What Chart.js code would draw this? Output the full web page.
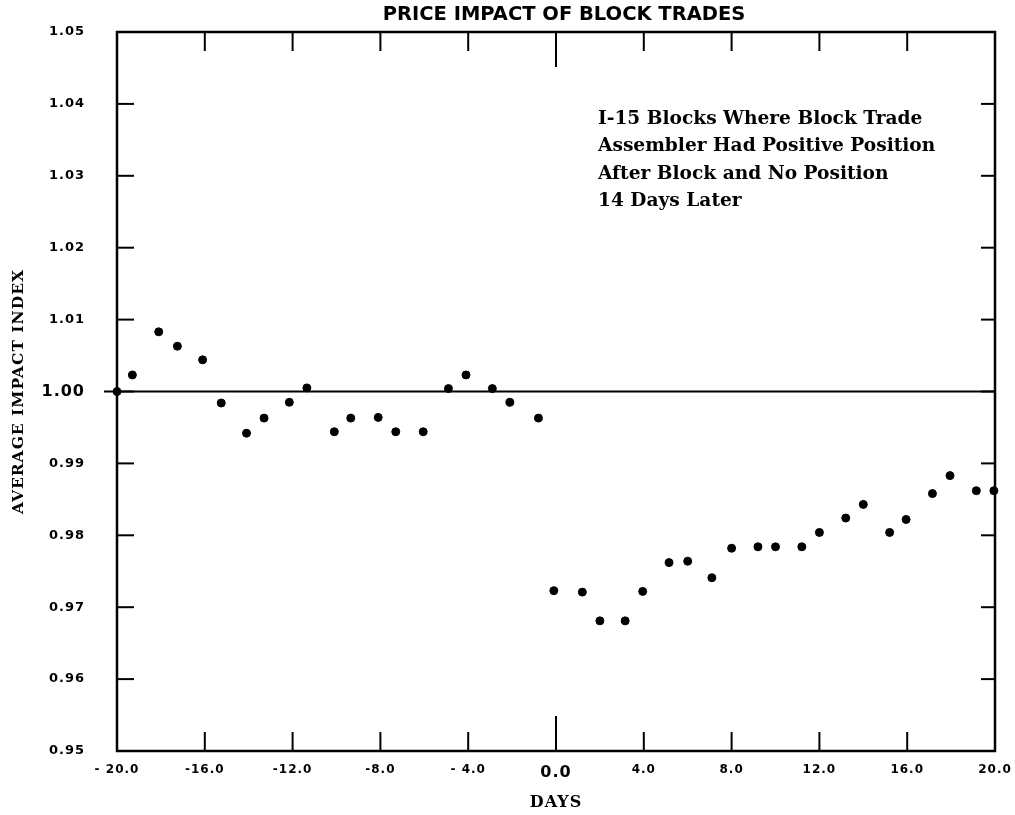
<!DOCTYPE html>
<html>
<head>
<meta charset="utf-8">
<script src="https://cdn.jsdelivr.net/npm/chart.js@4.4.1/dist/chart.umd.min.js"></script>
<style>
  html, body { margin: 0; padding: 0; background: #fff; }
</style>
</head>
<body>
<canvas id="impactChart" width="1015" height="815"></canvas>
<script>
// days relative to the block trade, as plotted
const days = [
  -20.0, -19.3, -18.1, -17.25, -16.1, -15.25, -14.1, -13.3, -12.15, -11.35,
  -10.1, -9.35, -8.1, -7.3, -6.05, -4.9, -4.1, -2.9, -2.1, -0.8,
  -0.1, 1.2, 2.0, 3.15, 3.95, 5.15, 6.0, 7.1, 8.0, 9.2,
  10.0, 11.2, 12.0, 13.2, 14.0, 15.2, 15.95, 17.15, 17.95, 19.15, 19.95
];
const impact = [
  1.0000, 1.0023, 1.0083, 1.0063, 1.0044, 0.9984, 0.9942, 0.9963, 0.9985, 1.0005,
  0.9944, 0.9963, 0.9964, 0.9944, 0.9944, 1.0004, 1.0023, 1.0004, 0.9985, 0.9963,
  0.9723, 0.9721, 0.9681, 0.9681, 0.9722, 0.9762, 0.9764, 0.9741, 0.9782, 0.9784,
  0.9784, 0.9784, 0.9804, 0.9824, 0.9843, 0.9804, 0.9822, 0.9858, 0.9883, 0.9862, 0.9862
];
const xTickValues = [-20, -16, -12, -8, -4, 0, 4, 8, 12, 16, 20];
const xTickLabels = ['- 20.0', '-16.0', '-12.0', '-8.0', '- 4.0', '0.0', '4.0', '8.0', '12.0', '16.0', '20.0'];
const yTickValues = [0.95, 0.96, 0.97, 0.98, 0.99, 1.00, 1.01, 1.02, 1.03, 1.04, 1.05];
const yTickLabels = ['0.95', '0.96', '0.97', '0.98', '0.99', '1.00', '1.01', '1.02', '1.03', '1.04', '1.05'];
const baseline = 1.00;
const chartTitle = 'PRICE IMPACT OF BLOCK TRADES';
const noteLines = [
  'I-15 Blocks Where Block Trade',
  'Assembler Had Positive Position',
  'After Block and No Position',
  '14 Days Later'
];

const sans = '"DejaVu Sans", sans-serif';
const serif = '"DejaVu Serif", serif';

function line(ctx, x1, y1, x2, y2) {
  ctx.beginPath();
  ctx.moveTo(x1, y1);
  ctx.lineTo(x2, y2);
  ctx.stroke();
}

// frame, inward ticks and the 1.00 line
const framePlugin = {
  id: 'frame',
  beforeDraw(chart) {
    chart.ctx.letterSpacing = '1px';
  },
  beforeDatasetsDraw(chart) {
    const { ctx, chartArea: a, scales: { x, y } } = chart;
    ctx.save();
    ctx.strokeStyle = '#000';
    ctx.lineWidth = 2.5;
    ctx.strokeRect(a.left, a.top, a.right - a.left, a.bottom - a.top);
    ctx.lineWidth = 2;
    xTickValues.forEach(v => {
      if (v === -20 || v === 20) return;
      const px = x.getPixelForValue(v);
      const len = v === 0 ? 35 : 19;
      line(ctx, px, a.bottom, px, a.bottom - len);
      line(ctx, px, a.top, px, a.top + len);
    });
    yTickValues.forEach(v => {
      if (v === 0.95 || v === 1.05) return;
      const py = y.getPixelForValue(v);
      line(ctx, a.left, py, a.left + 17, py);
      line(ctx, a.right, py, a.right - 14, py);
    });
    const by = y.getPixelForValue(baseline);
    line(ctx, a.left - 13, by, a.right, by);
    ctx.restore();
  },
  afterDraw(chart) {
    const ctx = chart.ctx;
    ctx.save();
    ctx.letterSpacing = '0px';
    ctx.fillStyle = '#000';
    ctx.textBaseline = 'middle';

    // title
    let size = 19;
    ctx.font = `bold ${size}px ${sans}`;
    size = size * 362 / ctx.measureText(chartTitle).width;
    ctx.font = `bold ${size.toFixed(1)}px ${sans}`;
    ctx.textAlign = 'center';
    ctx.fillText(chartTitle, 564, 15);

    // note
    size = 17;
    ctx.font = `bold ${size}px ${serif}`;
    size = size * 337 / ctx.measureText(noteLines[1]).width;
    ctx.font = `bold ${size.toFixed(1)}px ${serif}`;
    ctx.textAlign = 'left';
    noteLines.forEach((t, i) => ctx.fillText(t, 598, 119 + i * 27.5));
    ctx.restore();
  }
};

new Chart(document.getElementById('impactChart'), {
  type: 'scatter',
  data: {
    datasets: [{
      data: days.map((d, i) => ({ x: d, y: impact[i] })),
      backgroundColor: '#000',
      borderColor: '#000',
      pointRadius: 4,
      pointHoverRadius: 4,
      clip: false
    }]
  },
  options: {
    responsive: false,
    animation: false,
    devicePixelRatio: 1,
    layout: { padding: { top: 32, right: 20, left: 0, bottom: 0 } },
    plugins: { legend: { display: false }, tooltip: { enabled: false } },
    scales: {
      x: {
        type: 'linear',
        min: -20,
        max: 20,
        afterFit: s => { s.height = 64; },
        afterBuildTicks: s => { s.ticks = xTickValues.map(v => ({ value: v })); },
        grid: { display: false, drawTicks: true, tickLength: 10 },
        border: { display: false },
        ticks: {
          padding: 2,
          color: '#000',
          maxRotation: 0,
          autoSkip: false,
          font: c => (c.tick && c.tick.value === 0)
            ? { family: sans, size: 16, weight: 'bold' }
            : { family: sans, size: 12, weight: 'bold' },
          callback: (v, i) => xTickLabels[i]
        },
        title: {
          display: true,
          text: 'DAYS',
          color: '#000',
          font: { family: serif, size: 16, weight: 'bold' },
          padding: { top: 0, bottom: 3 }
        }
      },
      y: {
        type: 'linear',
        min: 0.95,
        max: 1.05,
        afterFit: s => { s.width = 117; },
        afterBuildTicks: s => { s.ticks = yTickValues.map(v => ({ value: v })); },
        grid: { display: false, drawTicks: true, tickLength: 30 },
        border: { display: false },
        ticks: {
          padding: 2,
          color: '#000',
          autoSkip: false,
          font: c => (c.tick && Math.abs(c.tick.value - 1) < 1e-9)
            ? { family: sans, size: 16, weight: 'bold' }
            : { family: sans, size: 13, weight: 'bold' },
          callback: (v, i) => yTickLabels[i]
        },
        title: {
          display: true,
          text: 'AVERAGE IMPACT INDEX',
          color: '#000',
          font: { family: serif, size: 15.5, weight: 'bold' },
          padding: { top: 10, bottom: 0 }
        }
      }
    }
  },
  plugins: [framePlugin]
});
</script>
</body>
</html>
